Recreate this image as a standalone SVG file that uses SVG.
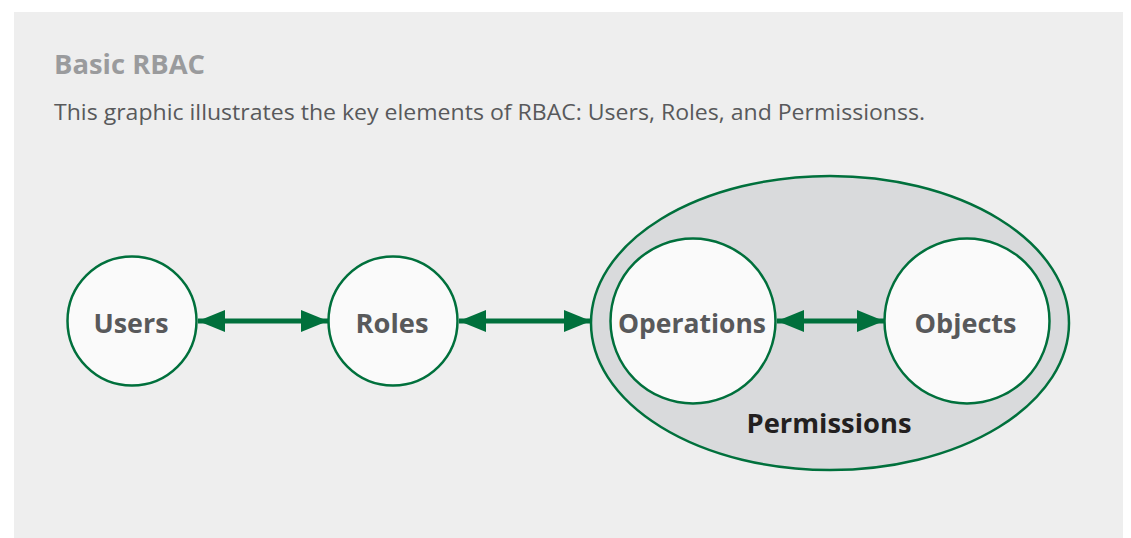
<svg xmlns="http://www.w3.org/2000/svg" width="1131" height="538" viewBox="0 0 1131 538">
  <style>
    .panel { fill: #eeeeee; }
    .title { font-family: "Open Sans", "Noto Sans", sans-serif; font-weight: 700; font-size: 26px; fill: #9a9b9d; }
    .subtitle { font-family: "Open Sans", "Noto Sans", sans-serif; font-size: 21.5px; fill: #58595b; }
    .node circle { fill: #fafafa; stroke: #00703c; stroke-width: 2.5; }
    .node text { font-family: "Open Sans", "Noto Sans", sans-serif; font-weight: 700; font-size: 27px; fill: #58595b; text-anchor: middle; }
    .group ellipse { fill: #d9dadc; stroke: #00703c; stroke-width: 2.5; }
    .group text { font-family: "Open Sans", "Noto Sans", sans-serif; font-weight: 700; font-size: 27px; fill: #231f20; text-anchor: middle; }
    .link { stroke: #00703c; stroke-width: 5; fill: none; }
  </style>
  <defs>
    <marker id="arrowEnd" markerUnits="userSpaceOnUse" markerWidth="28" markerHeight="22" refX="27" refY="11" orient="auto">
      <path d="M0,0 L27,11 L0,22 Z" fill="#00703c"/>
    </marker>
    <marker id="arrowStart" markerUnits="userSpaceOnUse" markerWidth="28" markerHeight="22" refX="0" refY="11" orient="auto">
      <path d="M27,0 L0,11 L27,22 Z" fill="#00703c"/>
    </marker>
  </defs>

  <rect class="panel" x="14" y="12" width="1109" height="526"/>

  <text class="title" x="54" y="74" textLength="151" lengthAdjust="spacingAndGlyphs">Basic RBAC</text>
  <text class="subtitle" x="54" y="120" textLength="871" lengthAdjust="spacingAndGlyphs">This graphic illustrates the key elements of RBAC: Users, Roles, and Permissionss.</text>

  <g id="permissions" class="group">
    <ellipse cx="830" cy="323" rx="239" ry="147"/>
    <text x="829" y="433" textLength="165" lengthAdjust="spacingAndGlyphs">Permissions</text>
  </g>

  <g id="users" class="node">
    <circle cx="132" cy="321" r="64.5"/>
    <text x="131" y="333" textLength="75" lengthAdjust="spacingAndGlyphs">Users</text>
  </g>

  <g id="roles" class="node">
    <circle cx="393" cy="321" r="64.5"/>
    <text x="392" y="333" textLength="73" lengthAdjust="spacingAndGlyphs">Roles</text>
  </g>

  <g id="operations" class="node">
    <circle cx="693" cy="321" r="82.5"/>
    <text x="692" y="333" textLength="148" lengthAdjust="spacingAndGlyphs">Operations</text>
  </g>

  <g id="objects" class="node">
    <circle cx="967" cy="321" r="82.5"/>
    <text x="965.5" y="333" textLength="102" lengthAdjust="spacingAndGlyphs">Objects</text>
  </g>

  <g id="connectors">
    <line class="link" x1="198" y1="321" x2="328" y2="321" marker-start="url(#arrowStart)" marker-end="url(#arrowEnd)"/>
    <line class="link" x1="459" y1="321" x2="591" y2="321" marker-start="url(#arrowStart)" marker-end="url(#arrowEnd)"/>
    <line class="link" x1="777" y1="321" x2="884" y2="321" marker-start="url(#arrowStart)" marker-end="url(#arrowEnd)"/>
  </g>
</svg>
